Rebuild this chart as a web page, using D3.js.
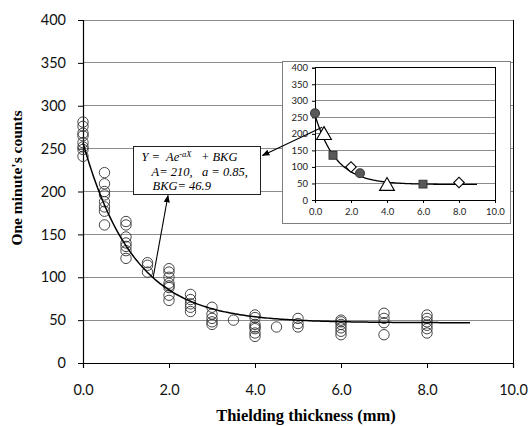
<!DOCTYPE html>
<html><head><meta charset="utf-8">
<script src="https://cdn.jsdelivr.net/npm/d3@7"></script>
<style>body{margin:0;background:#fff}svg{display:block}text{white-space:pre}</style>
</head><body>
<svg id="c" width="528" height="426"></svg>
<script>
// ---- data ----
const thickness = [0, 0.5, 1.0, 1.5, 2.0, 2.5, 3.0, 3.5, 4.0, 4.5, 5.0, 6.0, 7.0, 8.0];
const counts = [
  [281, 276, 268, 265, 257, 252, 249, 241],
  [222, 209, 200, 196, 188, 182, 177, 161],
  [165, 161, 147, 140, 136, 131, 122],
  [117, 114, 106],
  [110, 106, 100, 93, 90, 88, 79, 73],
  [80, 74, 69, 65, 60],
  [65, 57, 52, 48, 45],
  [50],
  [56, 53, 45, 42, 40, 35, 31],
  [42],
  [52, 46, 42],
  [50, 48, 45, 41, 37, 33],
  [58, 52, 47, 33],
  [56, 52, 48, 44, 40, 35]
];
const insetX = [0, 0.5, 1.0, 2.0, 2.5, 4.0, 6.0, 8.0];
const insetY = [262, 196, 135, 100, 81, 42, 48, 53];
const insetShape = ["circle", "triangle", "square", "diamond", "circle", "triangle", "square", "diamond"];
const fitA = 210, fitRate = 0.85, fitBKG = 46.9, fitMaxX = 9;
const xTicks = [0, 2, 4, 6, 8, 10];
const yTicks = [0, 50, 100, 150, 200, 250, 300, 350, 400];
const formulaLines = ["A= 210,   a = 0.85,", "BKG= 46.9"];
const xTitle = "Thielding thickness (mm)";
const yTitle = "One minute's counts";

const svg = d3.select("#c");
const fit = x => fitA * Math.exp(-fitRate * x) + fitBKG;
const fitXs = d3.range(0, fitMaxX + 0.0001, 0.05);

// ---- main chart ----
const x = d3.scaleLinear().domain([0, 10]).range([83, 513]);
const y = d3.scaleLinear().domain([0, 400]).range([363, 20]);

svg.append("g").selectAll("line").data(yTicks.filter(d => d > 0)).join("line")
  .attr("x1", x(0)).attr("x2", x(10)).attr("y1", d => y(d)).attr("y2", d => y(d))
  .attr("stroke", "#8c8c8c").attr("stroke-width", 1).attr("shape-rendering", "crispEdges");

svg.append("line").attr("x1", x(10)).attr("x2", x(10)).attr("y1", y(400)).attr("y2", y(0) + 5)
  .attr("stroke", "#000").attr("shape-rendering", "crispEdges");

const yAxis = svg.append("g").attr("transform", `translate(${x(0)},0)`)
  .call(d3.axisLeft(y).tickValues(yTicks).tickSize(5).tickPadding(12).tickFormat(d3.format("d")));
const xAxis = svg.append("g").attr("transform", `translate(0,${y(0)})`)
  .call(d3.axisBottom(x).tickValues(xTicks).tickSize(5).tickPadding(17).tickFormat(d3.format(".1f")));
[yAxis, xAxis].forEach(g => {
  g.select(".domain").attr("stroke", "#000").attr("stroke-width", 1.2);
  g.selectAll(".tick line").attr("stroke", "#000");
  g.selectAll("text").attr("font-family", "Lato, 'Open Sans', sans-serif").attr("font-size", 14.5).attr("fill", "#111");
});

const pts = [];
thickness.forEach((t, i) => counts[i].forEach(v => pts.push([t, v])));
svg.append("g").selectAll("circle").data(pts).join("circle")
  .attr("cx", d => x(d[0])).attr("cy", d => y(d[1])).attr("r", 5.2)
  .attr("fill", "none").attr("stroke", "#333").attr("stroke-width", 0.9);

svg.append("path").datum(fitXs)
  .attr("d", d3.line().x(d => x(d)).y(d => y(fit(d))))
  .attr("fill", "none").attr("stroke", "#000").attr("stroke-width", 1.5);

svg.append("text").attr("transform", `translate(22,${178}) rotate(-90)`)
  .attr("text-anchor", "middle").attr("font-family", "'Liberation Serif', serif")
  .attr("font-weight", "bold").attr("font-size", 15.5).text(yTitle);
svg.append("text").attr("x", 306).attr("y", 421)
  .attr("text-anchor", "middle").attr("font-family", "'Liberation Serif', serif")
  .attr("font-weight", "bold").attr("font-size", 16.5).text(xTitle);

// ---- inset ----
const ix = d3.scaleLinear().domain([0, 10]).range([315, 495]);
const iy = d3.scaleLinear().domain([0, 400]).range([200, 67.7]);

svg.append("rect").attr("x", 282.5).attr("y", 61.5).attr("width", 228).attr("height", 162)
  .attr("fill", "#fff").attr("stroke", "#7f7f7f").attr("stroke-width", 1);

svg.append("g").selectAll("line").data(yTicks.filter(d => d > 0)).join("line")
  .attr("x1", ix(0)).attr("x2", ix(10)).attr("y1", d => iy(d)).attr("y2", d => iy(d))
  .attr("stroke", "#8c8c8c").attr("shape-rendering", "crispEdges");
svg.append("path")
  .attr("d", `M${ix(0)},${iy(400)}H${ix(10)}V${iy(0)}`)
  .attr("fill", "none").attr("stroke", "#000").attr("shape-rendering", "crispEdges");

const iyAxis = svg.append("g").attr("transform", `translate(${ix(0)},0)`)
  .call(d3.axisLeft(iy).tickValues(yTicks).tickSize(3).tickPadding(4).tickFormat(d3.format("d")));
const ixAxis = svg.append("g").attr("transform", `translate(0,${iy(0)})`)
  .call(d3.axisBottom(ix).tickValues(xTicks).tickSize(3).tickPadding(5).tickFormat(d3.format(".1f")));
[iyAxis, ixAxis].forEach(g => {
  g.select(".domain").attr("stroke", "#000");
  g.selectAll(".tick line").attr("stroke", "#000");
  g.selectAll("text").attr("font-family", "Lato, 'Open Sans', sans-serif").attr("font-size", 9.5).attr("fill", "#222");
});

svg.append("path").datum(fitXs)
  .attr("d", d3.line().x(d => ix(d)).y(d => iy(fit(d))))
  .attr("fill", "none").attr("stroke", "#000").attr("stroke-width", 1.3);

const symMap = { circle: d3.symbolCircle, triangle: d3.symbolTriangle, square: d3.symbolSquare, diamond: d3.symbolSquare };
const sizeMap = { circle: 62, triangle: 95, square: 62, diamond: 55 };
svg.append("g").selectAll("path").data(insetX.map((v, i) => ({ x: v, y: insetY[i], s: insetShape[i] }))).join("path")
  .attr("d", d => d3.symbol(symMap[d.s], sizeMap[d.s])())
  .attr("transform", d => `translate(${ix(d.x)},${iy(d.y)})${d.s === "diamond" ? " rotate(45)" : ""}`)
  .attr("fill", d => (d.s === "circle" || d.s === "square") ? "#595959" : "#fff")
  .attr("stroke", d => (d.s === "circle" || d.s === "square") ? "#3a3a3a" : "#000")
  .attr("stroke-width", 1.1);

// ---- annotation box & arrows ----
const defs = svg.append("defs");
defs.append("marker").attr("id", "ah").attr("viewBox", "0 0 10 10").attr("refX", 9).attr("refY", 5)
  .attr("markerWidth", 7).attr("markerHeight", 7).attr("orient", "auto-start-reverse")
  .append("path").attr("d", "M0,1L10,5L0,9Z").attr("fill", "#000");

const bx = 133.5, by = 146.5, bw = 127, bh = 48;
svg.append("rect").attr("x", bx).attr("y", by).attr("width", bw).attr("height", bh)
  .attr("fill", "#fff").attr("stroke", "#222").attr("stroke-width", 1);

const ft = svg.append("g").attr("font-family", "'Liberation Serif', serif").attr("font-style", "italic").attr("font-size", 12.5);
const l1 = ft.append("text").attr("x", bx + 8).attr("y", by + 14);
l1.append("tspan").text("Y =  Ae");
l1.append("tspan").attr("dy", -4).attr("font-size", 8.5).text("-aX");
l1.append("tspan").attr("dy", 4).text("   + BKG");
ft.append("text").attr("x", bx + 18).attr("y", by + 29.5).text(formulaLines[0]);
ft.append("text").attr("x", bx + 19).attr("y", by + 43.5).text(formulaLines[1]);

const ax0 = 1.63;
svg.append("line").attr("x1", x(ax0)).attr("y1", y(fit(ax0)))
  .attr("x2", 168).attr("y2", by + bh + 1)
  .attr("stroke", "#000").attr("stroke-width", 1.1).attr("marker-end", "url(#ah)");
svg.append("line").attr("x1", ix(0.4)).attr("y1", iy(220))
  .attr("x2", bx + bw + 2).attr("y2", by + 9)
  .attr("stroke", "#000").attr("stroke-width", 1.1).attr("marker-end", "url(#ah)");
</script>
</body></html>
